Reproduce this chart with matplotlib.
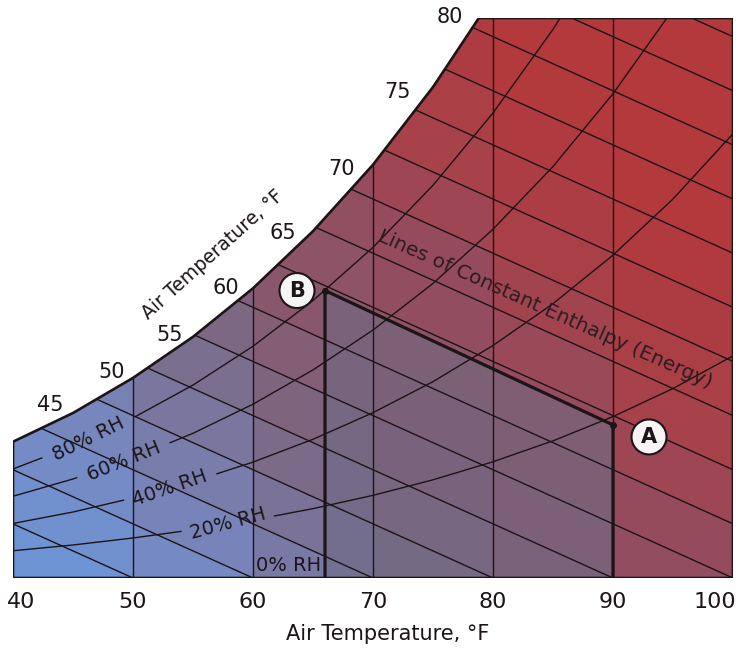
import numpy as np
import matplotlib.pyplot as plt
from matplotlib.colors import LinearSegmentedColormap
from matplotlib.patches import Polygon
from matplotlib.transforms import ScaledTranslation

# saturation curve: grains of moisture per lb dry air at each air temperature
sat_temp = [40, 45, 50, 55, 60, 65, 70, 75, 80, 85, 90, 95, 100]
sat_grains = [36.5, 44.2, 53.6, 64.6, 77.6, 92.9, 110.7, 131.5, 155.7, 183.7, 216.2, 253.8, 297.5]

rh_levels = [0.8, 0.6, 0.4, 0.2]
rh_labels = ['80% RH', '60% RH', '40% RH', '20% RH']

# constant enthalpy lines, named by the temperature where they meet the 0% RH axis
enthalpy_base = list(range(50, 210, 10))
enthalpy_slope = 1.45  # grains per degF along a line of constant enthalpy

dry_bulb_lines = [50, 60, 70, 80, 90]
x_ticks = [40, 50, 60, 70, 80, 90, 100]
dewpoint_labels = [45, 50, 55, 60, 65, 70, 75, 80]

point_a = (90, 41)
point_b = (66, 77)
w_top = 150

ink = '#1c1416'

fig = plt.figure(figsize=(7.38, 6.52), dpi=100)
ax = fig.add_axes([13 / 738, 74 / 652, 720 / 738, 560 / 652])
ax.set_xlim(40, 100)
ax.set_ylim(0, w_top)
for s in ax.spines.values():
    s.set_visible(False)
ax.set_yticks([])

# chart outline (saturation curve cut at the top of the chart)
t_top = np.interp(w_top, sat_grains, sat_temp)
verts = [(t, w) for t, w in zip(sat_temp, sat_grains) if w < w_top]
verts += [(t_top, w_top), (100, w_top), (100, 0), (40, 0)]
region = Polygon(verts, closed=True, fc='none', ec=ink, lw=1.9, zorder=6)
ax.add_patch(region)

# background colour, one shade per cell between dry bulb and enthalpy lines
tt, ww = np.meshgrid(np.linspace(40, 100, 721), np.linspace(0, w_top, 561))
col = np.clip(np.floor((tt - 40) / 10), 0, 5)
band = np.floor((tt + ww / enthalpy_slope) / 10) * 10
tc = col * 10 + 45
t0c = band + 5
shade = np.clip(0.45 * (tc - 40) / 60 + 0.55 * (t0c - 45) / 110, 0, 1)
cmap = LinearSegmentedColormap.from_list('chart', [
    (0.0, '#6c98dc'), (0.2, '#7886bd'), (0.4, '#7c6a86'), (0.55, '#8b566a'),
    (0.72, '#974b5c'), (0.82, '#a8414a'), (1.0, '#b3393c')])
img = ax.imshow(shade, origin='lower', extent=[40, 100, 0, w_top], aspect='auto',
                cmap=cmap, vmin=0, vmax=1, interpolation='nearest', zorder=1)
img.set_clip_path(region)

# grey area under the process line
shade_poly = Polygon([(point_b[0], 0), point_b, point_a, (point_a[0], 0)],
                     closed=True, fc='#6e6c86', alpha=0.55, ec='none', zorder=2)
ax.add_patch(shade_poly)

# dry bulb lines
for t in dry_bulb_lines:
    ln, = ax.plot([t, t], [0, w_top], color=ink, lw=1.0, zorder=3)
    ln.set_clip_path(region)

# enthalpy lines
for t0 in enthalpy_base:
    ln, = ax.plot([40, t0], [enthalpy_slope * (t0 - 40), 0], color=ink, lw=1.0, zorder=3)
    ln.set_clip_path(region)

# relative humidity curves, broken where the label sits
label_temp = [46.3, 49.2, 53.1, 57.9]
label_rot = [26, 22, 19, 15]
gap = 3.9
sat_t = np.array(sat_temp, dtype=float)
sat_w = np.array(sat_grains)
for rh, lab, tl, rot in zip(rh_levels, rh_labels, label_temp, label_rot):
    for lo, hi in [(40, tl - gap), (tl + gap, 100)]:
        ts = np.concatenate([[lo], sat_t[(sat_t > lo) & (sat_t < hi)], [hi]])
        ln, = ax.plot(ts, rh * np.interp(ts, sat_t, sat_w), color=ink, lw=1.0, zorder=3)
        ln.set_clip_path(region)
    ax.text(tl, rh * np.interp(tl, sat_t, sat_w), lab, rotation=rot, ha='center',
            va='center', fontsize=14, color=ink, rotation_mode='anchor', zorder=5)
ax.text(63.0, 0.8, '0% RH', ha='center', va='bottom', fontsize=14, color=ink, zorder=5)

# process line B -> A
ax.plot([point_b[0], point_b[0], point_a[0], point_a[0]],
        [0, point_b[1], point_a[1], 0], color=ink, lw=2.3, zorder=4,
        solid_joinstyle='miter')
ax.plot([point_a[0], point_b[0]], [point_a[1], point_b[1]], 'o', color=ink, ms=4, zorder=5)
for name, p, off in [('A', point_a, (36, -12)), ('B', point_b, (-28, 0))]:
    ax.annotate(name, xy=p, xytext=off, textcoords='offset pixels', ha='center',
                va='center', fontsize=15, fontweight='bold', color=ink, zorder=7,
                bbox=dict(boxstyle='circle,pad=0.36', fc='#f6f4f4', ec=ink, lw=1.5))

ax.text(84.3, 72.0, 'Lines of Constant Enthalpy (Energy)',
        rotation=-24.0, ha='center', va='center', fontsize=14.5, color='#2b1d22',
        rotation_mode='anchor', zorder=5)

# dew point labels along the saturation curve
offsets = [(-23, 8), (-21, 6), (-23, 2), (-27, 0), (-30, -2), (-32, -4), (-36, -5), (-29, 1)]
for t, off in zip(dewpoint_labels, offsets):
    tx, w = t, np.interp(t, sat_t, sat_w)
    if w > w_top:
        tx, w = t_top, w_top
    ax.annotate(str(t), xy=(tx, w), xytext=off, textcoords='offset pixels',
                ha='center', va='center', fontsize=15, color=ink, zorder=7,
                annotation_clip=False)

ax.text(0.277, 0.577, 'Air Temperature, \u00b0F', transform=ax.transAxes, rotation=42,
        ha='center', va='center', fontsize=13.5, color=ink)

ax.set_xticks(x_ticks)
ax.set_xticklabels([str(v) for v in x_ticks], fontsize=16, color=ink)
ax.tick_params(axis='x', length=0, pad=10)
labels = ax.get_xticklabels()
labels[0].set_ha('left')
labels[0].set_transform(labels[0].get_transform() + ScaledTranslation(-0.06, 0, fig.dpi_scale_trans))
labels[-1].set_ha('right')
labels[-1].set_transform(labels[-1].get_transform() + ScaledTranslation(0.03, 0, fig.dpi_scale_trans))
fig.text(388 / 738, 1 - 634 / 652, 'Air Temperature, \u00b0F', ha='center', va='center',
         fontsize=15, color=ink)

fig.savefig('out.png', dpi=100, facecolor='white')
